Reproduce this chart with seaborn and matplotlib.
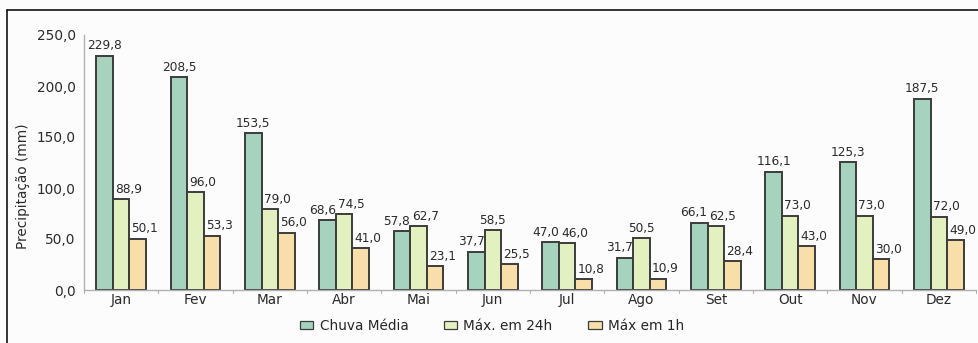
import matplotlib
matplotlib.use("Agg")
import matplotlib.pyplot as plt
import seaborn as sns
import pandas as pd
from matplotlib.patches import Rectangle
from matplotlib.lines import Line2D

meses = ["Jan", "Fev", "Mar", "Abr", "Mai", "Jun", "Jul", "Ago", "Set", "Out", "Nov", "Dez"]
chuva_media = [229.8, 208.5, 153.5, 68.6, 57.8, 37.7, 47.0, 31.7, 66.1, 116.1, 125.3, 187.5]
max_24h = [88.9, 96.0, 79.0, 74.5, 62.7, 58.5, 46.0, 50.5, 62.5, 73.0, 73.0, 72.0]
max_1h = [50.1, 53.3, 56.0, 41.0, 23.1, 25.5, 10.8, 10.9, 28.4, 43.0, 30.0, 49.0]
series = ["Chuva Média", "Máx. em 24h", "Máx em 1h"]
cores = ["#a6d3bd", "#e3f0c0", "#f8dfa9"]
y_ticks = [0, 50, 100, 150, 200, 250]

df = pd.DataFrame({
    "Mês": meses * 3,
    "Série": [series[0]] * 12 + [series[1]] * 12 + [series[2]] * 12,
    "Valor": chuva_media + max_24h + max_1h,
})

sns.set_theme(style="white")
plt.rcParams["font.family"] = ["DejaVu Sans"]

TXT = "#2a2a2a"
fig = plt.figure(figsize=(9.79, 3.43), dpi=100, facecolor="#fcfcfc")
ax = fig.add_axes([84 / 979, 1 - 290 / 343, 892 / 979, 255 / 343])
ax.set_facecolor("#fcfcfc")

sns.barplot(data=df, x="Mês", y="Valor", hue="Série", order=meses,
            hue_order=series, palette=cores, width=0.67, ax=ax,
            edgecolor="#3c3c3c", linewidth=1.4, saturation=1, legend=False)


def fmt(v):
    return f"{v:.1f}".replace(".", ",")


# value labels: centred, or nudged sideways when a neighbouring bar/label is in the way
LBL_H = 12
PAD = 2.5
c_media, c_24, c_1h = ax.containers
for i in range(12):
    g, m, h = chuva_media[i], max_24h[i], max_1h[i]
    pg, pm, ph = c_media[i], c_24[i], c_1h[i]
    if g >= m + LBL_H:
        xg, hag = pg.get_x() + pg.get_width() / 2, "center"
    else:
        xg, hag = pg.get_x() + pg.get_width(), "right"
    ax.annotate(fmt(g), (xg, g), xytext=(0, PAD), textcoords="offset points",
                ha=hag, va="bottom", fontsize=8.7, color=TXT)
    if g + LBL_H > m:
        xm, ham = pm.get_x(), "left"
    else:
        xm, ham = pm.get_x() + pm.get_width() / 2, "center"
    ax.annotate(fmt(m), (xm, m), xytext=(1.5 if ham == "left" else 0, PAD),
                textcoords="offset points", ha=ham, va="bottom", fontsize=8.7, color=TXT)
    ax.annotate(fmt(h), (ph.get_x(), h), xytext=(1.5, PAD), textcoords="offset points",
                ha="left", va="bottom", fontsize=8.7, color=TXT)

ax.set_xlim(-0.5, 11.5)
ax.set_ylim(0, 250)
ax.set_yticks(y_ticks)
ax.set_yticklabels([fmt(v) for v in y_ticks], fontsize=9.8, color=TXT)
ax.set_xticks(range(12))
ax.set_xticklabels(meses, fontsize=9.8, color=TXT)
ax.tick_params(axis="x", length=0, pad=2)
ax.tick_params(axis="y", length=4, width=0.8, color="#b0b0b0", pad=2)
for b in [i + 0.5 for i in range(-1, 12)]:
    ax.plot([b, b], [0, -3], color="#b0b0b0", lw=0.8, clip_on=False)
ax.set_xlabel("")
ax.set_ylabel("Precipitação (mm)", fontsize=9.8, color=TXT)
ax.yaxis.set_label_coords((30 - 84) / 892, (290 - 186) / 255)
for s in ["top", "right"]:
    ax.spines[s].set_visible(False)
for s in ["left", "bottom"]:
    ax.spines[s].set_color("#b0b0b0")
    ax.spines[s].set_linewidth(1.0)

handles = [Rectangle((0, 0), 1, 1, facecolor=c, edgecolor="#3c3c3c", lw=0.9) for c in cores]
fig.legend(handles, series, loc="center", bbox_to_anchor=(492 / 979, 1 - 326 / 343),
           ncol=3, frameon=False, handlelength=1.0, handleheight=0.5,
           handletextpad=0.45, columnspacing=2.6, prop={"size": 9.8})

# outer frame lines (top and left)
fig.add_artist(Line2D([7 / 979, 1.0], [1 - 9.5 / 343, 1 - 9.5 / 343], color="#111111", lw=1.2,
                      transform=fig.transFigure))
fig.add_artist(Line2D([7.5 / 979, 7.5 / 979], [0, 1 - 9.5 / 343], color="#111111", lw=1.2,
                      transform=fig.transFigure))

fig.savefig("out.png", dpi=100, facecolor=fig.get_facecolor())
